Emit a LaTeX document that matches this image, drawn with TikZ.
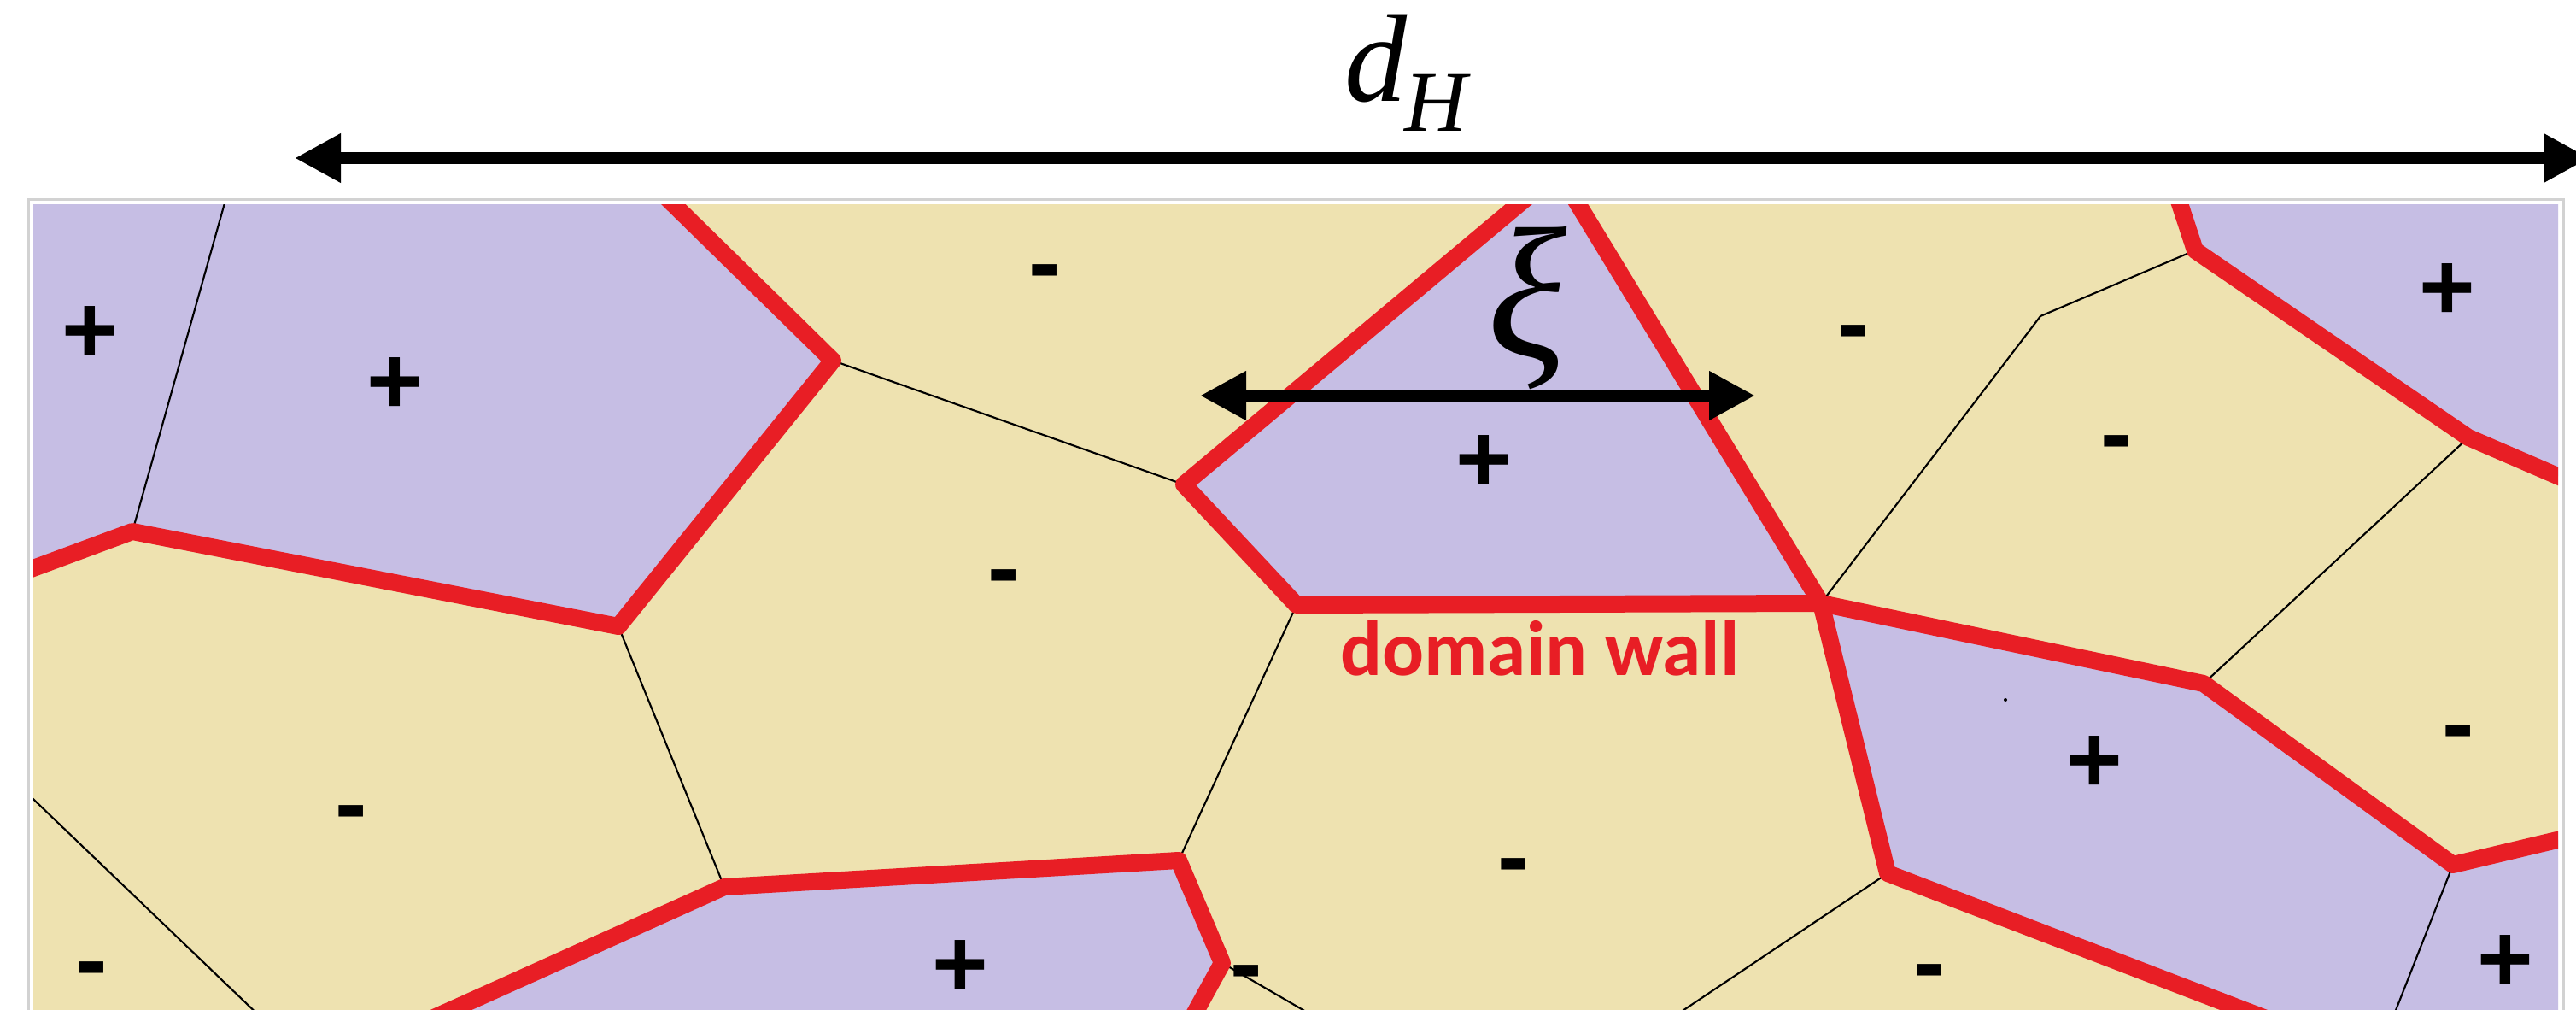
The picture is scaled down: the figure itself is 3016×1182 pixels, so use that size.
\documentclass[tikz,border=0pt]{standalone}
\usepackage{fontspec}
\newfontfamily\signfont{Liberation Sans}
\newfontfamily\wallfont{Carlito}
\newfontfamily\symfont{Liberation Serif}
\usepackage{tikz}
\usetikzlibrary{arrows.meta}
\definecolor{plusdom}{RGB}{198,190,228}
\definecolor{minusdom}{RGB}{238,226,176}
\definecolor{wallred}{RGB}{232,30,37}
\tikzset{>={Triangle[length=2.7mm,width=2.7mm]}}
\tikzset{
  wall/.style={draw=wallred, line width=1mm, line join=round},
  cellline/.style={draw=black, line width=0.3pt},
  spin/.style={font=\signfont\bfseries\fontsize{16}{16}\selectfont, inner sep=0pt, yshift=-0.5mm},
  measure/.style={<->, line width=0.7mm},
  wallname/.style={font=\wallfont\bfseries\fontsize{13}{13}\selectfont, text=wallred, inner sep=0pt},
}

\begin{document}
\begin{tikzpicture}[x=0.05mm,y=-0.05mm]
  \useasboundingbox (0,0) rectangle (3016,1182);
  % cell corners
  \coordinate (P1) at (155,622);
  \coordinate (P2) at (724,733);
  \coordinate (P3) at (975,422);
  \coordinate (P4) at (1386,567);
  \coordinate (P5) at (2132,706);
  \coordinate (P6) at (1518,708);
  \coordinate (P7) at (1380,1007);
  \coordinate (P8) at (1431,1127);
  \coordinate (P9) at (848,1038);
  \coordinate (P10) at (2210,1022);
  \coordinate (P11) at (2580,800);
  \coordinate (P12) at (2890,512);
  \coordinate (P13) at (2570,293);
  \coordinate (P14) at (2389,370);
  \coordinate (P15) at (2872,1012);

  \draw[gray!35, line width=0.15mm, fill=white] (33,233) rectangle (3001,1200);
  \begin{scope}
    \clip (39,239) rectangle (2995,1182);
    \fill[minusdom] (39,239) rectangle (2995,1182);
    \fill[plusdom] (20,220) -- (769,220) -- (P3) -- (P2) -- (P1) -- (20,672) -- cycle;
    \fill[plusdom] (P4) -- (1801,220) -- (1836,220) -- (P5) -- (P6) -- cycle;
    \fill[plusdom] (2546,220) -- (P13) -- (P12) -- (3015,566) -- (3015,220) -- cycle;
    \fill[plusdom] (P5) -- (P11) -- (P15) -- (3015,978) -- (3015,1200) -- (2674,1200) -- (P10) -- cycle;
    \fill[plusdom] (488,1200) -- (P9) -- (P7) -- (P8) -- (1391,1200) -- cycle;
    % cell boundaries
    \draw[cellline] (268,220) -- (P1);
    \draw[cellline] (P3) -- (P4);
    \draw[cellline] (P2) -- (P9);
    \draw[cellline] (P6) -- (P7);
    \draw[cellline] (P8) -- (1548,1195);
    \draw[cellline] (20,917) -- (310,1195);
    \draw[cellline] (P10) -- (1952,1195);
    \draw[cellline] (P13) -- (P14) -- (P5);
    \draw[cellline] (P11) -- (P12);
    \draw[cellline] (P15) -- (2800,1195);
    % domain walls
    \draw[wall] (20,672) -- (P1) -- (P2) -- (P3) -- (769,220);
    \draw[wall] (1801,220) -- (P4) -- (P6) -- (P5) -- (1836,220);
    \draw[wall] (488,1200) -- (P9) -- (P7) -- (P8) -- (1391,1200);
    \draw[wall] (P5) -- (P10) -- (2674,1200);
    \draw[wall] (P5) -- (P11) -- (P15) -- (3015,978);
    \draw[wall] (2546,220) -- (P13) -- (P12) -- (3015,566);
    \fill (2348,819) circle (2);
  \end{scope}

  \node[spin] (a1) at (105,382) {+};
  \node[spin] (a2) at (462,442) {+};
  \node[spin] (a3) at (1737,533) {+};
  \node[spin] (a4) at (2865,332) {+};
  \node[spin] (a5) at (2452,885) {+};
  \node[spin] (a6) at (2933,1118) {+};
  \node[spin] (a7) at (1124,1124) {+};
  \node[spin] (b1) at (1223,318) {-};
  \node[spin] (b2) at (1175,675) {-};
  \node[spin] (b3) at (2170,389) {-};
  \node[spin] (b4) at (2478,518) {-};
  \node[spin] (b5) at (411,951) {-};
  \node[spin] (b6) at (107,1134) {-};
  \node[spin] (b7) at (1772,1013) {-};
  \node[spin] (b8) at (1459,1138) {-};
  \node[spin] (b9) at (2878,857) {-};
  \node[spin] (b10) at (2259,1137) {-};

  \node[wallname, anchor=base west] (dw) at (1568,790) {domain wall};

  % length scales
  \coordinate (hl) at (345,185);
  \coordinate (hr) at (3032,185);
  \draw[measure] (hl) -- (hr);
  \node[anchor=base, font=\symfont\itshape\fontsize{20.8}{24}\selectfont] (dH) at (1646,118)
    {d\kern-0.5pt\raisebox{-5.1pt}{\fontsize{14.4}{16}\selectfont H}};
  \coordinate (xl) at (1405,463);
  \coordinate (xr) at (2055,463);
  \draw[measure] (xl) -- (xr);
  \node[anchor=base, font=\symfont\itshape\fontsize{31}{34}\selectfont] (xi) at (1788,418) {ξ};
\end{tikzpicture}
\end{document}
